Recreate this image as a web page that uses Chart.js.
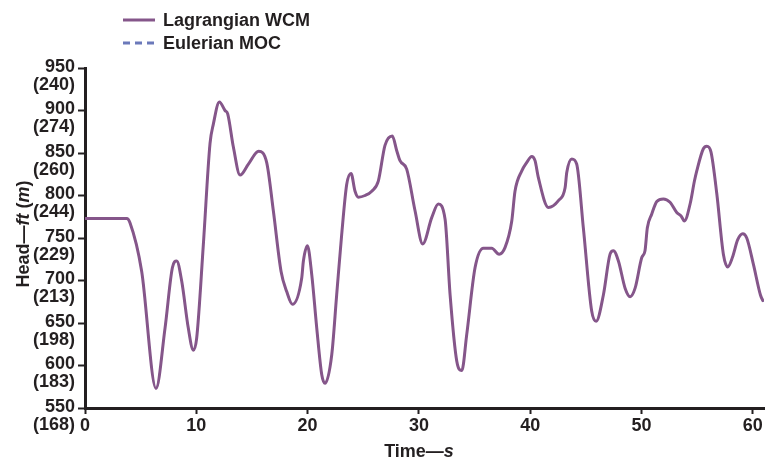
<!DOCTYPE html>
<html>
<head>
<meta charset="utf-8">
<title>Head vs time</title>
<script src="https://cdn.jsdelivr.net/npm/chart.js@4.4.1/dist/chart.umd.min.js"></script>
<style>
  html, body { margin: 0; padding: 0; background: #fff; }
  #wrap { width: 765px; height: 461px; }
</style>
</head>
<body>
<div id="wrap"><canvas id="headChart" width="765" height="461"></canvas></div>
<script>
// time (s) and head (ft)
const timeS = [
    0, 3.75, 4.04, 5.09, 6.38, 7.19, 7.85, 8.24, 8.69, 9.28, 9.73, 10.03, 10.63, 11.23, 11.53,
    12.07, 12.58, 12.82, 13.33, 13.93, 14.68, 15.6, 16.32, 16.92, 17.61, 18.12, 18.63, 19.47,
    19.62, 19.98, 20.37, 20.82, 21.27, 21.56, 22.17, 22.61, 23.06, 23.51, 23.9, 24.26, 24.56,
    25.16, 25.76, 26.35, 26.95, 27.61, 28.0, 28.3, 28.9, 29.65, 30.34, 31.15, 31.74, 32.35,
    32.8, 33.4, 33.85, 34.29, 35.04, 35.79, 36.54, 37.2, 37.74, 38.34, 38.63, 39.24, 39.69,
    40.13, 40.43, 40.73, 41.63, 42.53, 43.13, 43.28, 43.73, 44.17, 44.77, 45.52, 45.92, 46.57,
    47.17, 47.47, 47.92, 48.52, 48.97, 49.42, 50.02, 50.31, 50.52, 50.91, 51.37, 51.96, 52.56,
    53.16, 53.55, 53.85, 54.36, 54.75, 54.96, 55.55, 55.86, 56.24, 56.76, 57.35, 57.74, 58.16,
    58.64, 59.09, 59.45, 60.05, 60.68, 60.95
];
const wcmHeadFt = [
    773, 773, 768, 711, 573, 644, 715, 723, 699, 644, 618, 632, 742, 861, 884,
    910, 900, 896, 857, 824, 837, 852, 839, 782, 711, 687, 672, 703,
    723, 741, 707, 644, 589, 579, 613, 683, 754, 813, 826, 805, 798,
    800, 805, 817, 859, 870, 853, 841, 831, 782, 743, 774, 790, 772,
    683, 605, 594, 636, 715, 738, 738, 731, 739, 770, 805, 829, 839,
    846, 841, 821, 786, 794, 809, 827, 843, 837, 762, 664, 652, 683,
    731, 735, 723, 691, 681, 691, 727, 735, 762, 778, 793, 796, 792,
    780, 776, 770, 790, 817, 829, 855, 858, 851, 802, 731, 716, 727,
    748, 755, 750, 719, 683, 675
];
// the MOC curve lies under the WCM curve everywhere in the figure
const mocHeadFt = wcmHeadFt.slice();

const headTicksFt = [550, 600, 650, 700, 750, 800, 850, 900, 950];
const headTicksM = ['(168)', '(183)', '(198)', '(213)', '(229)', '(244)', '(260)', '(274)', '(240)'];
const timeTicks = [0, 10, 20, 30, 40, 50, 60];

// axis titles, split so the units can be set in italics
const xTitleParts = [['Time—', false], ['s', true]];
const yTitleParts = [['Head—', false], ['ft', true], [' (', false], ['m', true], [')', false]];

const FONT = '"Liberation Sans", Arial, Helvetica, sans-serif';
const INK = '#231f20';
const WCM_COLOR = '#85568a';
const MOC_COLOR = '#6b79ba';

function toPoints(xs, ys) {
    return xs.map((x, i) => ({ x: x, y: ys[i] }));
}

function partFont(italic) {
    return (italic ? 'italic ' : '') + 'bold 18px ' + FONT;
}

// draws a run of mixed upright/italic text centred on (0, 0)
function drawParts(ctx, parts) {
    let total = 0;
    parts.forEach(([t, it]) => { ctx.font = partFont(it); total += ctx.measureText(t).width; });
    let x = -total / 2;
    parts.forEach(([t, it]) => {
        ctx.font = partFont(it);
        ctx.fillText(t, x, 0);
        x += ctx.measureText(t).width;
    });
}

// two-row legend in the top left and the axis titles
const figureText = {
    id: 'figureText',
    afterDraw(chart) {
        const ctx = chart.ctx;
        const area = chart.chartArea;
        const x0 = 123, x1 = 155, tx = 163;
        const rows = [20, 43];
        ctx.save();
        chart.data.datasets.forEach((ds, i) => {
            const y = rows[i];
            ctx.beginPath();
            ctx.strokeStyle = ds.borderColor;
            ctx.lineWidth = 3;
            ctx.setLineDash(ds.borderDash && ds.borderDash.length ? [7, 5] : []);
            ctx.moveTo(x0, y);
            ctx.lineTo(x1, y);
            ctx.stroke();
            ctx.setLineDash([]);
            ctx.fillStyle = INK;
            ctx.font = 'bold 18px ' + FONT;
            ctx.textBaseline = 'middle';
            ctx.textAlign = 'left';
            ctx.fillText(ds.label, tx, y + 1);
        });

        ctx.fillStyle = INK;
        ctx.textBaseline = 'middle';
        ctx.textAlign = 'left';
        ctx.save();
        ctx.translate(419, 452);
        drawParts(ctx, xTitleParts);
        ctx.restore();

        ctx.save();
        ctx.translate(24, 234);
        ctx.rotate(-Math.PI / 2);
        drawParts(ctx, yTitleParts);
        ctx.restore();
        ctx.restore();
    }
};

const ctx = document.getElementById('headChart').getContext('2d');
new Chart(ctx, {
    type: 'line',
    data: {
        datasets: [
            {
                label: 'Lagrangian WCM',
                data: toPoints(timeS, wcmHeadFt),
                borderColor: WCM_COLOR,
                borderWidth: 3,
                pointRadius: 0,
                cubicInterpolationMode: 'monotone',
                fill: false,
                order: 1
            },
            {
                label: 'Eulerian MOC',
                data: toPoints(timeS, mocHeadFt),
                borderColor: MOC_COLOR,
                borderWidth: 1.5,
                borderDash: [7, 5],
                pointRadius: 0,
                cubicInterpolationMode: 'monotone',
                fill: false,
                order: 2
            }
        ]
    },
    options: {
        responsive: false,
        animation: false,
        layout: { padding: { top: 68, right: 1, bottom: 0, left: 0 } },
        plugins: {
            legend: { display: false },
            tooltip: { enabled: false }
        },
        scales: {
            x: {
                type: 'linear',
                min: 0,
                max: 61,
                afterBuildTicks: (scale) => {
                    scale.ticks = timeTicks.map(v => ({ value: v }));
                },
                afterFit: (scale) => { scale.height = 53; },
                ticks: {
                    color: INK,
                    font: { family: FONT, size: 18, weight: 'bold' },
                    padding: 1,
                    maxRotation: 0
                },
                grid: {
                    display: true,
                    drawOnChartArea: false,
                    drawTicks: true,
                    tickLength: 6,
                    tickColor: INK,
                    tickWidth: 2
                },
                border: { display: true, color: INK, width: 3 },
                title: { display: false }
            },
            y: {
                type: 'linear',
                min: 550,
                max: 950,
                afterBuildTicks: (scale) => {
                    scale.ticks = headTicksFt.map(v => ({ value: v }));
                },
                afterFit: (scale) => { scale.width = 85; },
                ticks: {
                    color: INK,
                    font: { family: FONT, size: 18, weight: 'bold', lineHeight: 1.0 },
                    padding: 3,
                    labelOffset: 8,
                    callback: (value) => {
                        const i = headTicksFt.indexOf(value);
                        return [String(value), headTicksM[i]];
                    }
                },
                grid: {
                    display: true,
                    drawOnChartArea: false,
                    drawTicks: true,
                    tickLength: 7,
                    tickColor: INK,
                    tickWidth: 2
                },
                border: { display: true, color: INK, width: 3 },
                title: { display: false }
            }
        }
    },
    plugins: [figureText]
});
</script>
</body>
</html>
